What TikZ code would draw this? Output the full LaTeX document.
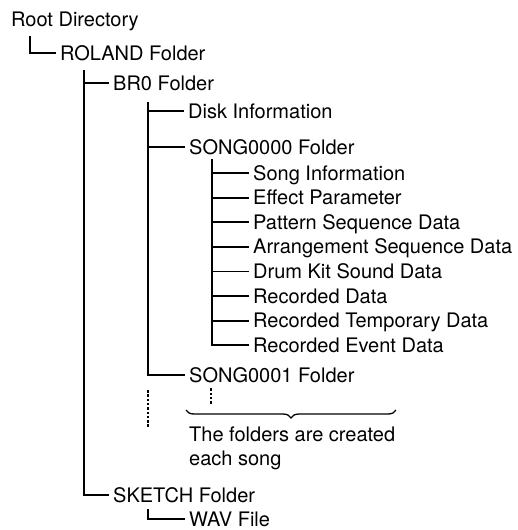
\documentclass[tikz,border=0pt]{standalone}
\usepackage{fontspec}
\setmainfont{TeX Gyre Heros}
\usetikzlibrary{calc, decorations.pathreplacing}
\tikzset{
  item/.style={anchor=west, inner sep=0pt, text height=14pt, text depth=0pt,
               font=\fontsize{20}{24}\selectfont},
  note/.style={anchor=north west, inner sep=0pt, align=left,
               font=\fontsize{20}{24}\selectfont},
  tree/.style={line width=1.7pt, draw=black, shorten >=4pt},
  cont/.style={line width=1.7pt, draw=black, dash pattern=on 2.5pt off 1.8pt},
  brc/.style={line width=1.3pt, draw=black, decorate,
              decoration={brace, amplitude=8pt, mirror}}
}

\begin{document}
\begin{tikzpicture}[x=1pt, y=1pt]
\useasboundingbox (0,0) rectangle (517,-530);
% folders and files
\node[item] (root) at (11,-20) {Root Directory};
\node[item] (roland) at (60,-53) {ROLAND Folder};
\node[item] (br0) at (113,-83) {BR0 Folder};
\node[item] (disk) at (188,-111) {Disk Information};
\node[item] (song0) at (189,-147) {SONG0000 Folder};
\foreach \n/\t [count=\i] in {sinfo/Song Information, efx/Effect Parameter,
    pseq/Pattern Sequence Data, aseq/Arrangement Sequence Data,
    kit/Drum Kit Sound Data, rec/Recorded Data,
    rtmp/Recorded Temporary Data, revt/Recorded Event Data}
  \node[item] (\n) at (253,{-148.5-24.6*\i}) {\t};
\node[item] (song1) at (189,-375) {SONG0001 Folder};
\node[note] (each) at (189,-427) {The folders are created\\each song};
\node[item] (sketch) at (113,-495) {SKETCH Folder};
\node[item] (wav) at (189,-519) {WAV File};
% trunks
\coordinate (t0) at ($(root.south west)+(19,-9)$);
\coordinate (t1) at ($(roland.south west)+(24,-10)$);
\coordinate (t2) at ($(br0.south west)+(35,-12)$);
\coordinate (t3) at ($(song0.south west)+(23,-5)$);
\coordinate (t4) at ($(song1.south west)+(22,-6)$);
\coordinate (t5) at ($(sketch.south west)+(35,-7)$);
\draw[tree] (t0) |- (roland.west);
\draw[tree] (t1) |- (sketch.west);
\draw[tree] (t1 |- br0.west) -- (br0.west);
\draw[tree] (t2) |- (song1.west);
\foreach \n in {disk, song0}
  \draw[tree] (t2 |- \n.west) -- (\n.west);
\draw[tree] (t3) |- (revt.west);
\foreach \n in {sinfo, efx, pseq, aseq, kit, rec, rtmp}
  \draw[tree] (t3 |- \n.west) -- (\n.west);
\draw[tree] (t5) |- (wav.west);
% more songs
\draw[cont] (t4) -- ++(0,-17);
\draw[cont] ($(t2 |- song1.west)+(0,-15)$) -- ++(0,-38);
\draw[brc] ($(each.north west)+(-3,17)$) -- ($(each.north west)+(207,17)$);
\end{tikzpicture}
\end{document}
